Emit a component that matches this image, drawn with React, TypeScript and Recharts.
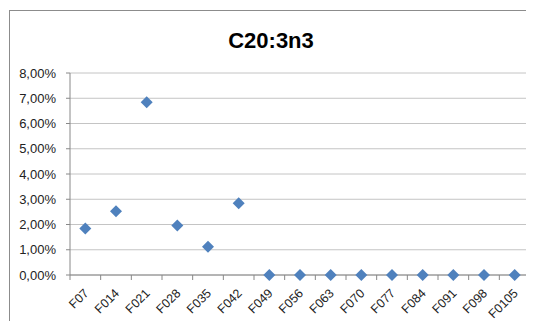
import { ScatterChart, Scatter, XAxis, YAxis, CartesianGrid } from "recharts";

const categories = [
  "F07", "F014", "F021", "F028", "F035", "F042", "F049", "F056",
  "F063", "F070", "F077", "F084", "F091", "F098", "F0105",
];

// fraction values (0.0184 = 1,84%)
const values = [
  0.0184, 0.0252, 0.0684, 0.0196, 0.0112, 0.0284, 0, 0,
  0, 0, 0, 0, 0, 0, 0,
];

const yTicks = [0, 0.01, 0.02, 0.03, 0.04, 0.05, 0.06, 0.07, 0.08];

const data = categories.map((name, i) => ({ name, x: i + 0.5, y: values[i] }));

// ticks at category boundaries (integers) and labels at centers (halves)
const xTicks: number[] = [];
for (let i = 0; i <= categories.length * 2; i++) xTicks.push(i / 2);

const FONT = "'Liberation Sans', Arial, sans-serif";

const fmtPct = (v: number) => (v * 100).toFixed(2).replace(".", ",") + "%";

function XTick(props: any) {
  const { x, y, payload } = props;
  const v = payload.value as number;
  if (Number.isInteger(v)) {
    return <line x1={x} y1={y} x2={x} y2={y + 5} stroke="#888" strokeWidth={1} />;
  }
  const label = categories[Math.floor(v)];
  const tx = x + 4;
  const ty = y + 19;
  return (
    <text
      x={tx}
      y={ty}
      textAnchor="end"
      transform={`rotate(-45, ${tx}, ${ty})`}
      fontSize={12.5}
      fontFamily={FONT}
      fill="#222"
    >
      {label}
    </text>
  );
}

function Diamond(props: any) {
  const { cx, cy } = props;
  const r = 6;
  return (
    <polygon
      points={`${cx},${cy - r} ${cx + r},${cy} ${cx},${cy + r} ${cx - r},${cy}`}
      fill="#4F81BD"
    />
  );
}

export default function App() {
  return (
    <div style={{ position: "relative", width: 534, height: 329, margin: -8, overflow: "hidden", background: "#fff" }}>
      <div
        style={{
          position: "absolute", left: 9, top: 10, width: 540, height: 340,
          border: "1px solid #8c8c8c", boxSizing: "border-box",
        }}
      />
      <div
        style={{
          position: "absolute", left: 9, width: 524, top: 28, textAlign: "center",
          fontFamily: FONT, fontWeight: "bold", fontSize: 22, color: "#000",
        }}
      >
        C20:3n3
      </div>
      <div style={{ position: "absolute", left: 0, top: 0 }}>
        <ScatterChart width={534} height={329} margin={{ top: 73, right: 4, bottom: 14, left: 0 }}>
          <CartesianGrid vertical={false} stroke="#c4c4c4" />
          <XAxis
            type="number"
            dataKey="x"
            domain={[0, categories.length]}
            ticks={xTicks}
            interval={0}
            tickLine={false}
            tickSize={0}
            tickMargin={0}
            height={40}
            axisLine={{ stroke: "#888" }}
            tick={<XTick />}
          />
          <YAxis
            type="number"
            dataKey="y"
            domain={[0, 0.08]}
            ticks={yTicks}
            interval={0}
            width={70}
            tickFormatter={fmtPct}
            axisLine={{ stroke: "#888" }}
            tickLine={{ stroke: "#888" }}
            tickSize={4}
            tickMargin={10}
            tick={{ fontSize: 13, fontFamily: FONT, fill: "#222" }}
          />
          <Scatter data={data} shape={<Diamond />} isAnimationActive={false} />
        </ScatterChart>
      </div>
    </div>
  );
}
